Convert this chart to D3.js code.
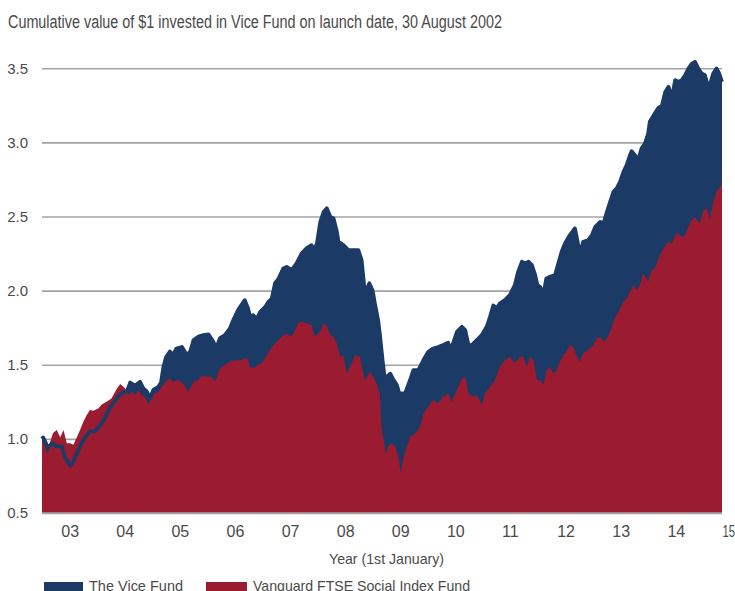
<!DOCTYPE html>
<html>
<head>
<meta charset="utf-8">
<script src="https://cdn.jsdelivr.net/npm/d3@7"></script>
<style>
  html, body { margin: 0; padding: 0; background: #fff; }
  svg { display: block; font-family: "Liberation Sans", Arial, sans-serif; }
</style>
</head>
<body>
<svg id="chart" width="735" height="591"></svg>
<script>
// ---- Data (decimal years, cumulative value of $1) ----
const title = "Cumulative value  of $1 invested in Vice Fund on launch date, 30 August 2002";
const xAxisTitle = "Year (1st January)";
const seriesNames = ["The Vice Fund", "Vanguard FTSE Social Index Fund"];
const yTicks = [0.5, 1.0, 1.5, 2.0, 2.5, 3.0, 3.5];
const xTicks = [2003, 2004, 2005, 2006, 2007, 2008, 2009, 2010, 2011, 2012, 2013, 2014, 2015];
const xTickLabels = ["03","04","05","06","07","08","09","10","11","12","13","14","15"];

const viceYears = [2002.66,2002.68,2002.77,2002.84,2002.93,2003.02,2003.08,2003.17,2003.23,2003.29,2003.35,2003.44,2003.53,2003.62,2003.71,2003.80,2003.89,2004.02,2004.11,2004.20,2004.26,2004.35,2004.44,2004.50,2004.56,2004.62,2004.68,2004.77,2004.82,2004.86,2004.91,2004.98,2005.04,2005.10,2005.20,2005.29,2005.35,2005.41,2005.50,2005.59,2005.68,2005.77,2005.82,2005.89,2005.98,2006.07,2006.13,2006.22,2006.34,2006.40,2006.45,2006.49,2006.56,2006.62,2006.71,2006.77,2006.83,2006.89,2006.95,2007.04,2007.10,2007.19,2007.28,2007.37,2007.46,2007.55,2007.60,2007.65,2007.71,2007.77,2007.83,2007.89,2007.95,2008.01,2008.04,2008.13,2008.22,2008.31,2008.40,2008.46,2008.49,2008.52,2008.60,2008.66,2008.70,2008.76,2008.79,2008.84,2008.87,2008.88,2008.92,2008.98,2009.04,2009.10,2009.16,2009.19,2009.25,2009.34,2009.40,2009.49,2009.58,2009.67,2009.76,2009.85,2009.94,2010.03,2010.06,2010.12,2010.19,2010.28,2010.34,2010.40,2010.46,2010.55,2010.64,2010.73,2010.79,2010.85,2010.91,2010.97,2011.06,2011.15,2011.24,2011.30,2011.37,2011.43,2011.49,2011.55,2011.61,2011.65,2011.70,2011.76,2011.81,2011.88,2011.97,2012.03,2012.09,2012.15,2012.24,2012.33,2012.38,2012.42,2012.48,2012.57,2012.64,2012.70,2012.79,2012.85,2012.91,2012.97,2013.03,2013.09,2013.15,2013.21,2013.27,2013.33,2013.36,2013.42,2013.48,2013.54,2013.60,2013.66,2013.69,2013.78,2013.84,2013.91,2013.97,2014.03,2014.09,2014.15,2014.21,2014.27,2014.33,2014.39,2014.45,2014.51,2014.57,2014.63,2014.69,2014.75,2014.78,2014.84,2014.90,2014.95,2015.00];
const viceValues = [1.00,1.01,0.94,0.97,0.95,0.95,0.87,0.82,0.85,0.90,0.95,1.01,1.05,1.05,1.09,1.14,1.21,1.275,1.31,1.32,1.38,1.36,1.385,1.34,1.32,1.275,1.33,1.35,1.38,1.48,1.55,1.59,1.565,1.61,1.62,1.565,1.59,1.667,1.69,1.70,1.705,1.655,1.61,1.68,1.70,1.745,1.80,1.87,1.936,1.88,1.80,1.835,1.81,1.857,1.89,1.925,1.947,2.05,2.08,2.15,2.16,2.138,2.184,2.25,2.285,2.307,2.273,2.32,2.464,2.53,2.555,2.50,2.487,2.40,2.33,2.307,2.273,2.273,2.273,2.206,2.094,1.98,2.05,2.00,1.914,1.80,1.71,1.53,1.44,1.35,1.42,1.44,1.397,1.363,1.285,1.307,1.307,1.397,1.464,1.464,1.53,1.588,1.61,1.62,1.633,1.648,1.61,1.644,1.722,1.756,1.734,1.633,1.633,1.667,1.70,1.756,1.824,1.90,1.88,1.914,1.936,1.97,2.037,2.127,2.195,2.184,2.195,2.172,2.105,2.037,2.026,1.97,2.08,2.094,2.105,2.184,2.262,2.318,2.375,2.42,2.33,2.24,2.33,2.34,2.375,2.43,2.464,2.453,2.53,2.60,2.667,2.69,2.734,2.80,2.847,2.914,2.94,2.914,2.88,2.96,2.99,3.06,3.14,3.195,3.23,3.25,3.34,3.375,3.296,3.42,3.408,3.42,3.453,3.498,3.53,3.543,3.498,3.465,3.453,3.375,3.386,3.465,3.498,3.465,3.408];

const vanguardYears = [2002.66,2002.68,2002.73,2002.77,2002.81,2002.86,2002.93,2002.99,2003.05,2003.11,2003.17,2003.23,2003.29,2003.35,2003.41,2003.47,2003.53,2003.59,2003.68,2003.74,2003.83,2003.92,2004.02,2004.08,2004.17,2004.23,2004.29,2004.35,2004.41,2004.47,2004.53,2004.59,2004.65,2004.71,2004.77,2004.86,2004.91,2004.98,2005.04,2005.13,2005.22,2005.31,2005.41,2005.50,2005.56,2005.65,2005.74,2005.80,2005.89,2005.98,2006.07,2006.16,2006.25,2006.34,2006.39,2006.43,2006.49,2006.58,2006.65,2006.74,2006.83,2006.92,2007.01,2007.10,2007.19,2007.25,2007.31,2007.37,2007.46,2007.55,2007.61,2007.71,2007.77,2007.83,2007.89,2007.95,2008.01,2008.07,2008.13,2008.19,2008.25,2008.34,2008.43,2008.49,2008.52,2008.61,2008.67,2008.73,2008.79,2008.82,2008.85,2008.90,2008.94,2009.01,2009.07,2009.13,2009.17,2009.22,2009.28,2009.34,2009.43,2009.52,2009.58,2009.67,2009.76,2009.85,2009.94,2010.03,2010.09,2010.19,2010.28,2010.34,2010.40,2010.49,2010.55,2010.64,2010.70,2010.79,2010.88,2010.97,2011.06,2011.15,2011.24,2011.33,2011.39,2011.46,2011.52,2011.58,2011.64,2011.70,2011.76,2011.82,2011.88,2011.94,2012.00,2012.06,2012.12,2012.18,2012.24,2012.30,2012.36,2012.42,2012.48,2012.57,2012.66,2012.73,2012.79,2012.85,2012.91,2012.97,2013.03,2013.09,2013.15,2013.21,2013.27,2013.33,2013.39,2013.45,2013.51,2013.57,2013.66,2013.72,2013.78,2013.84,2013.90,2013.96,2014.02,2014.09,2014.15,2014.21,2014.27,2014.33,2014.39,2014.45,2014.51,2014.54,2014.60,2014.66,2014.72,2014.78,2014.84,2014.90,2014.96,2015.00];
const vanguardValues = [0.98,0.98,0.93,0.90,0.98,1.04,1.06,1.01,1.06,0.97,0.97,0.96,1.01,1.06,1.115,1.16,1.195,1.19,1.205,1.23,1.25,1.273,1.34,1.37,1.34,1.296,1.318,1.296,1.33,1.296,1.285,1.23,1.285,1.307,1.318,1.363,1.39,1.408,1.385,1.397,1.375,1.318,1.385,1.397,1.43,1.42,1.42,1.385,1.476,1.50,1.52,1.53,1.53,1.543,1.543,1.487,1.476,1.50,1.51,1.565,1.62,1.655,1.69,1.71,1.69,1.734,1.78,1.79,1.78,1.768,1.69,1.722,1.78,1.756,1.70,1.69,1.644,1.554,1.565,1.44,1.487,1.565,1.554,1.44,1.397,1.453,1.42,1.375,1.307,1.08,1.015,0.90,0.947,0.97,0.947,0.88,0.768,0.88,0.947,1.015,1.037,1.08,1.17,1.217,1.262,1.24,1.285,1.307,1.25,1.33,1.408,1.42,1.307,1.285,1.296,1.23,1.307,1.35,1.397,1.487,1.53,1.554,1.51,1.554,1.554,1.487,1.554,1.53,1.397,1.397,1.363,1.464,1.487,1.44,1.464,1.52,1.565,1.588,1.633,1.62,1.56,1.52,1.577,1.60,1.633,1.678,1.69,1.655,1.678,1.722,1.79,1.835,1.88,1.925,1.947,1.992,2.037,2.004,2.037,2.116,2.06,2.138,2.15,2.206,2.262,2.296,2.33,2.318,2.375,2.386,2.363,2.375,2.43,2.476,2.50,2.476,2.453,2.543,2.555,2.487,2.60,2.667,2.70,2.722];

// ---- Layout ----
const svg = d3.select("#chart");
const plotLeft = 42, plotRight = 722, plotTop = 68.3, plotBottom = 513;
const navy = "#1b3a65", red = "#9b1c31", grid = "#a3a3a3", textCol = "#4a4a4a";

const x = d3.scaleLinear().domain([2002.66, 2015.0]).range([plotLeft, plotRight]);
const y = d3.scaleLinear().domain([0.5, 3.5]).range([plotBottom, plotTop]);

const vice = viceYears.map((t, i) => ({ t, v: viceValues[i] }));
const vang = vanguardYears.map((t, i) => ({ t, v: vanguardValues[i] }));

// Title
svg.append("text")
  .attr("x", 8).attr("y", 28)
  .attr("font-size", 18)
  .attr("fill", textCol)
  .attr("textLength", 494).attr("lengthAdjust", "spacingAndGlyphs")
  .text(title);

// Gridlines (behind)
const yAxis = d3.axisLeft(y).tickValues(yTicks).tickSize(-(plotRight - plotLeft)).tickFormat(d3.format(".1f")).tickPadding(14);
const gy = svg.append("g").attr("transform", `translate(${plotLeft},0)`).call(yAxis);
gy.select(".domain").remove();
gy.selectAll(".tick line").attr("stroke", grid).attr("stroke-width", 1.6);
gy.selectAll(".tick text").attr("font-size", 15).attr("fill", textCol)
  .attr("font-family", "Liberation Sans, Arial, sans-serif");

// Areas
const area = d3.area().x(d => x(d.t)).y0(y(0.5)).y1(d => y(d.v));
const line = d3.line().x(d => x(d.t)).y(d => y(d.v));

svg.append("path").datum(vice).attr("d", area).attr("fill", navy);
svg.append("path").datum(vang).attr("d", area).attr("fill", red);
svg.append("path").datum(vice).attr("d", line)
  .attr("fill", "none").attr("stroke", navy).attr("stroke-width", 3.8)
  .attr("stroke-linejoin", "round");

// Baseline
svg.append("line").attr("x1", plotLeft).attr("x2", plotRight)
  .attr("y1", y(0.5)).attr("y2", y(0.5))
  .attr("stroke", grid).attr("stroke-width", 1.6);

// X axis labels
const xAxis = d3.axisBottom(x).tickValues(xTicks).tickSize(0)
  .tickFormat((d, i) => xTickLabels[i]).tickPadding(0);
const gx = svg.append("g").attr("transform", `translate(0,${plotBottom})`).call(xAxis);
gx.select(".domain").remove();
gx.selectAll(".tick text")
  .attr("text-anchor", "start").attr("dy", null).attr("y", 23.5)
  .attr("font-size", 16).attr("fill", textCol)
  .attr("font-family", "Liberation Sans, Arial, sans-serif");
// last label sits at the right edge; keep it inside the page
gx.selectAll(".tick text").filter((d, i) => i === xTicks.length - 1)
  .attr("textLength", 12.5).attr("lengthAdjust", "spacingAndGlyphs");

// X axis title
svg.append("text")
  .attr("x", 386.5).attr("y", 563.5).attr("text-anchor", "middle")
  .attr("font-size", 15).attr("fill", textCol)
  .attr("textLength", 115).attr("lengthAdjust", "spacingAndGlyphs")
  .text(xAxisTitle);

// Legend
const legend = [
  { name: seriesNames[0], color: navy, sx: 44, sw: 39, tx: 89, tw: 94 },
  { name: seriesNames[1], color: red, sx: 206, sw: 41, tx: 253, tw: 217 }
];
const lg = svg.append("g");
legend.forEach(l => {
  lg.append("rect").attr("x", l.sx).attr("y", 582).attr("width", l.sw).attr("height", 14).attr("fill", l.color);
  lg.append("text").attr("x", l.tx).attr("y", 590.5).attr("font-size", 15).attr("fill", textCol)
    .attr("textLength", l.tw).attr("lengthAdjust", "spacingAndGlyphs").text(l.name);
});
</script>
</body>
</html>
